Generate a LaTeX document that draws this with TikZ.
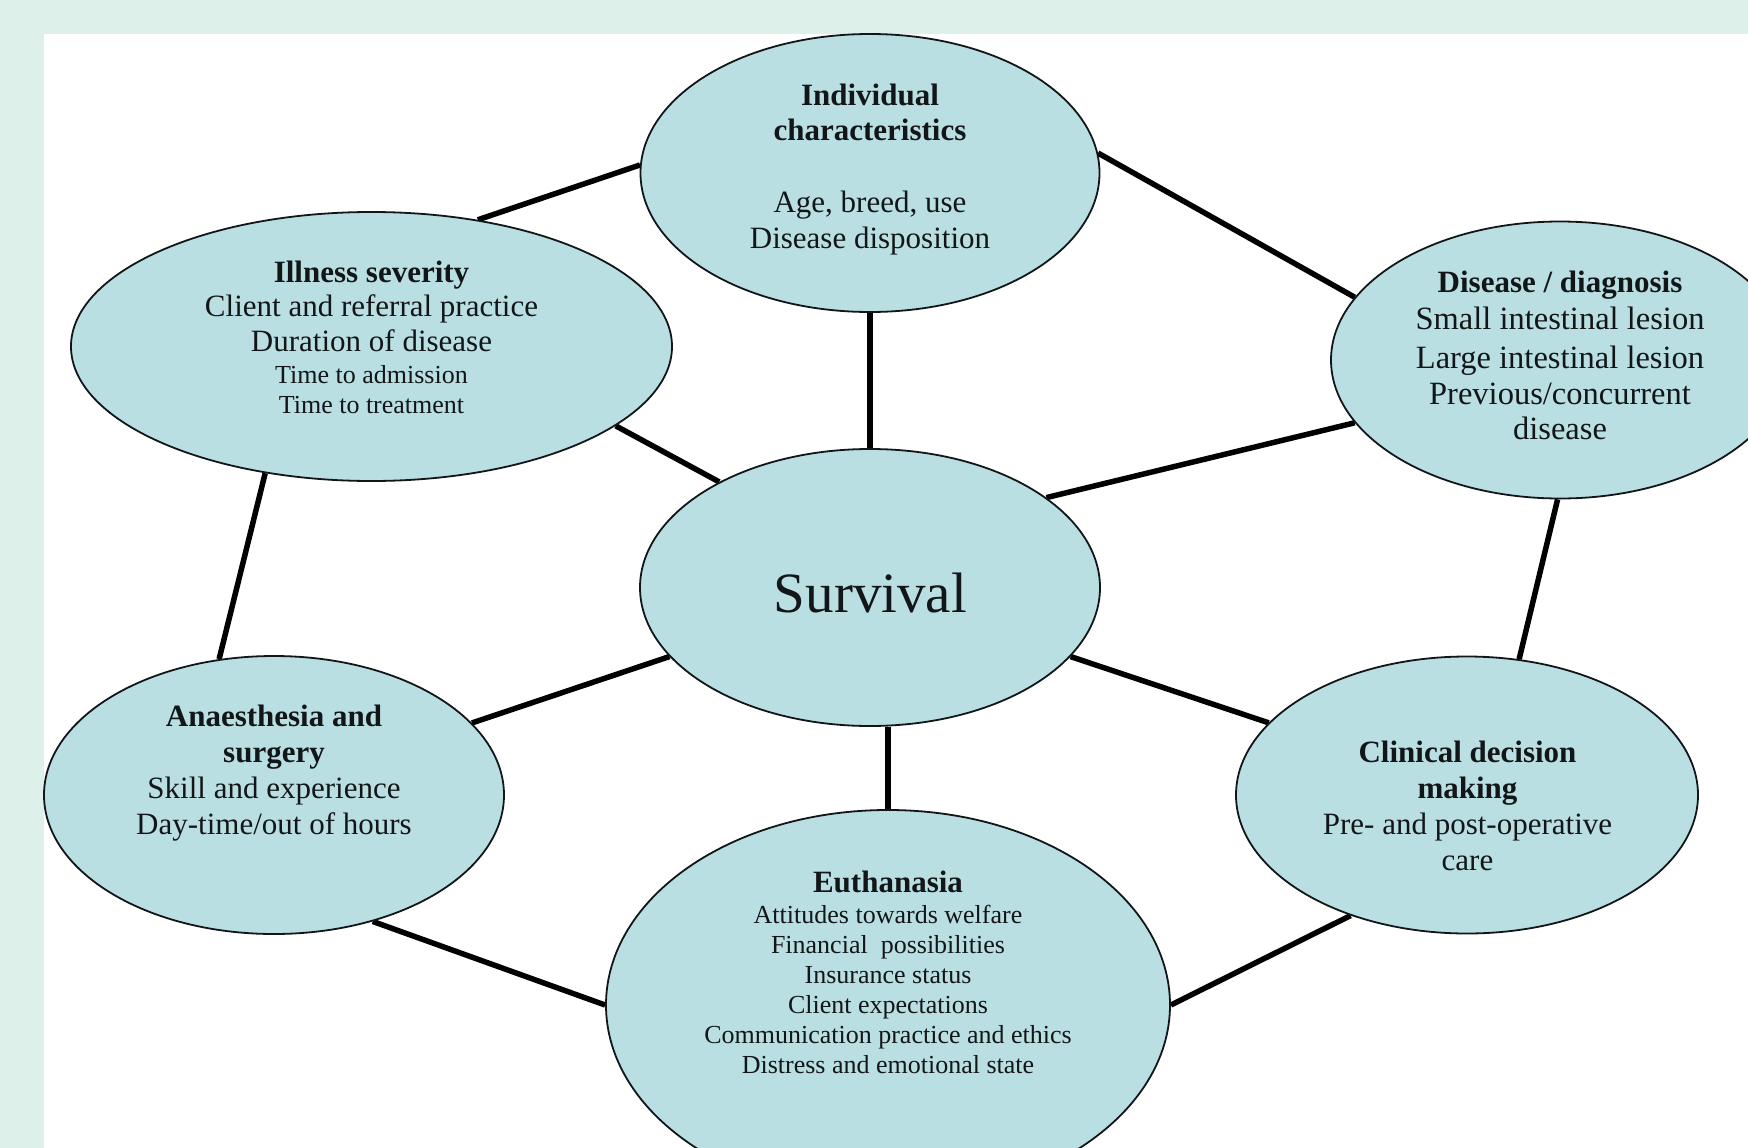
\documentclass[tikz,border=0pt]{standalone}
\usepackage{fontspec}
\setmainfont{Liberation Serif}
\usetikzlibrary{shapes.geometric}
\definecolor{mint}{RGB}{221,241,234}
\definecolor{ellfill}{RGB}{186,223,227}
\definecolor{ink}{RGB}{18,22,24}
\pgfdeclarelayer{back}
\pgfdeclarelayer{lines}
\pgfsetlayers{back,lines,main}
\begin{document}
\begin{tikzpicture}[x=1pt,y=-1pt,
  ell/.style={ellipse, draw=ink, line width=1.8pt, fill=ellfill, inner sep=0pt},
  link/.style={line width=5.5pt, draw=black},
  hd/.style={anchor=base, inner sep=0pt, text=ink, font=\fontsize{31}{36}\selectfont\bfseries},
  tx/.style={anchor=base, inner sep=0pt, text=ink, font=\fontsize{31}{36}\selectfont},
  txs/.style={anchor=base, inner sep=0pt, text=ink, font=\fontsize{26}{30}\selectfont},
  txl/.style={anchor=base, inner sep=0pt, text=ink, font=\fontsize{32.5}{37}\selectfont},
  big/.style={anchor=base, inner sep=0pt, text=ink, font=\fontsize{57}{64}\selectfont}]

\useasboundingbox (0,0) rectangle (1748,1148);
\begin{pgfonlayer}{back}
\fill[mint] (0,0) rectangle (1748,1148);
\fill[white] (44,34) rectangle (1748,1148);
\end{pgfonlayer}
\clip (0,0) rectangle (1748,1148);

% ellipses
\node[ell, minimum width=459pt, minimum height=278pt] (ind) at (870,173) {};
\node[ell, minimum width=601pt, minimum height=269pt] (ill) at (371.5,346.5) {};
\node[ell, minimum width=458pt, minimum height=277pt] (dis) at (1560,360) {};
\node[ell, minimum width=460pt, minimum height=277pt] (sur) at (870,587.5) {};
\node[ell, minimum width=460pt, minimum height=278pt] (ana) at (274,795) {};
\node[ell, minimum width=462pt, minimum height=277pt] (cli) at (1467,795) {};
\node[ell, minimum width=564pt, minimum height=390pt] (eut) at (888,1005) {};

% connectors
\begin{pgfonlayer}{lines}
\draw[link] (ill.50) -- (ind.178);
\draw[link] (ind.5) -- (dis.163);
\draw[link] (ind.south) -- (sur.north);
\draw[link] (ill.342) -- (sur.145);
\draw[link] (dis.197) -- (sur.27);
\draw[link] (ill.230) -- (ana.112);
\draw[link] (dis.269) -- (cli.69);
\draw[link] (ana.20) -- (sur.199);
\draw[link] (sur.341) -- (cli.160);
\draw[link] (sur.south -| eut.north) -- (eut.north);
\draw[link] (ana.308) -- (eut.west);
\draw[link] (cli.226) -- (eut.east);
\end{pgfonlayer}

% texts
\node[hd] (ind1) at (870,105.5) {Individual};
\node[hd] (ind2) at (870,140.5) {characteristics};
\node[tx] (ind3) at (870,212) {Age, breed, use};
\node[tx] (ind4) at (870,248) {Disease disposition};

\node[hd] (ill1) at (371.5,282) {Illness severity};
\node[tx] (ill2) at (371.5,316.5) {Client and referral practice};
\node[tx] (ill3) at (371.5,351.5) {Duration of disease};
\node[txs] (ill4) at (371.5,383.5) {Time to admission};
\node[txs] (ill5) at (371.5,413) {Time to treatment};

\node[hd] (dis1) at (1560,292) {Disease / diagnosis};
\node[txl] (dis2) at (1560,329.5) {Small intestinal lesion};
\node[txl] (dis3) at (1560,368) {Large intestinal lesion};
\node[txl] (dis4) at (1560,404.5) {Previous/concurrent};
\node[txl] (dis5) at (1560,439) {disease};

\node[big] (sur1) at (870.5,612) {Survival};

\node[hd] (ana1) at (274,726) {Anaesthesia and};
\node[hd] (ana2) at (274,762.5) {surgery};
\node[tx] (ana3) at (274,798) {Skill and experience};
\node[tx] (ana4) at (274,834) {Day-time/out of hours};

\node[hd] (cli1) at (1467.5,762.5) {Clinical decision};
\node[hd] (cli2) at (1467.5,798) {making};
\node[tx] (cli3) at (1467.5,834) {Pre- and post-operative};
\node[tx] (cli4) at (1467.5,870.5) {care};

\node[hd] (eut1) at (888,892) {Euthanasia};
\node[txs] (eut2) at (888,923) {Attitudes towards welfare};
\node[txs] (eut3) at (888,953) {Financial\ \ possibilities};
\node[txs] (eut4) at (888,983) {Insurance status};
\node[txs] (eut5) at (888,1013) {Client expectations};
\node[txs] (eut6) at (888,1043) {Communication practice and ethics};
\node[txs] (eut7) at (888,1073) {Distress and emotional state};
\end{tikzpicture}
\end{document}
